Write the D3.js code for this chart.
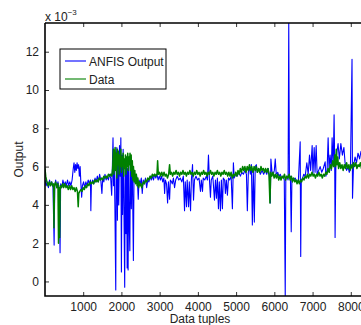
<!DOCTYPE html>
<html>
<head>
<meta charset="utf-8">
<script src="https://cdn.jsdelivr.net/npm/d3@7"></script>
<style>
  body { margin: 0; background: #fff; }
  text { font-family: "Liberation Sans", Arial, sans-serif; }
</style>
</head>
<body>
<svg id="chart" width="361" height="325"></svg>
<script>
// values are in units of 1e-3 (axis shows "x 10^-3")
const xTicks = [1000, 2000, 3000, 4000, 5000, 6000, 7000, 8000];
const yTicks = [0, 2, 4, 6, 8, 10, 12];
const seriesNames = ["ANFIS Output", "Data"];

// ANFIS output: [tuple index, value]
const anfisOutput = [
  [1,5.3],[30,5.0],[60,5.2],[90,4.9],[120,5.3],[150,5.0],[180,5.2],[210,4.9],[240,1.9],[255,5.0],[280,5.3],[310,4.9],[340,5.2],[370,4.8],[395,1.5],[410,5.1],
  [440,4.9],[470,5.3],[500,5.0],[530,5.2],[560,5.0],[590,5.3],[620,5.0],[650,5.2],[680,5.0],[710,5.3],[740,5.9],[760,6.2],[780,5.7],[800,6.1],[820,5.8],[840,6.2],
  [860,5.9],[880,6.1],[900,5.5],[920,6.0],[940,5.1],[960,4.4],[980,5.0],[1010,5.2],[1040,4.9],[1070,5.2],[1100,5.0],[1130,5.3],[1160,5.1],[1190,5.3],[1200,3.7],
  [1215,5.1],[1250,5.3],[1280,5.1],[1310,5.4],[1340,5.2],[1370,5.5],[1400,5.2],[1430,5.6],[1460,5.3],[1490,4.6],[1510,5.4],[1540,5.2],[1570,5.6],[1600,5.3],
  [1630,5.5],[1660,5.3],[1690,5.6],[1720,5.4],[1745,4.5],[1760,5.7],[1780,7.5],[1795,5.0],[1810,6.8],[1830,3.8],[1852,-0.45],[1865,6.4],[1880,7.0],[1895,3.2],
  [1910,6.8],[1930,4.0],[1950,7.1],[1970,5.5],[1985,7.5],[2000,0.5],[2015,6.6],[2030,3.5],[2045,6.9],[2060,5.0],[2086,-0.3],[2100,6.3],[2120,2.5],[2135,6.5],
  [2150,0.7],[2165,5.9],[2175,0.6],[2190,6.0],[2205,3.0],[2220,1.6],[2235,6.1],[2260,3.8],[2275,6.0],[2290,5.2],[2313,1.1],[2330,5.8],[2360,5.3],[2390,5.6],
  [2420,5.2],[2440,4.3],[2460,5.3],[2490,5.1],[2520,5.4],[2545,4.6],[2570,5.3],[2600,5.1],[2630,5.4],[2660,4.9],[2690,5.3],[2720,5.2],[2750,5.5],[2780,5.3],
  [2810,5.5],[2840,5.3],[2870,5.6],[2900,5.4],[2930,5.6],[2960,5.3],[2990,5.5],[3020,5.3],[3050,5.5],[3080,5.2],[3110,5.4],[3130,4.6],[3150,5.3],[3180,5.1],
  [3208,4.1],[3230,5.2],[3260,4.3],[3280,5.3],[3310,5.2],[3330,5.1],[3360,5.4],[3390,4.9],[3420,5.3],[3460,5.5],[3500,5.3],[3540,5.4],[3580,5.2],[3620,5.5],
  [3651,3.7],[3670,5.2],[3703,3.9],[3720,5.3],[3756,3.9],[3775,5.2],[3808,3.7],[3830,5.3],[3860,6.1],[3886,4.25],[3910,5.3],[3950,5.5],[3990,5.3],[4030,5.4],
  [4068,4.7],[4090,5.3],[4121,4.7],[4140,5.4],[4180,5.3],[4220,5.5],[4250,5.3],[4277,6.6],[4300,5.4],[4329,4.4],[4350,5.3],[4390,5.5],[4434,4.25],[4460,5.3],
  [4486,4.35],[4510,5.4],[4538,3.8],[4560,5.2],[4590,3.7],[4615,5.3],[4642,3.8],[4665,5.4],[4700,5.3],[4720,4.6],[4745,5.3],[4773,4.5],[4800,5.4],[4830,5.3],
  [4870,5.5],[4903,3.8],[4929,6.2],[4950,5.4],[4990,5.6],[5030,5.5],[5070,5.7],[5112,5.5],[5150,5.7],[5190,5.6],[5230,5.8],[5270,5.6],[5294,3.7],[5320,5.7],
  [5350,6.0],[5372,5.6],[5400,6.1],[5425,2.95],[5450,5.8],[5477,3.1],[5500,6.0],[5529,6.1],[5550,5.7],[5590,5.9],[5633,5.6],[5680,5.8],[5720,5.6],[5763,5.8],
  [5800,5.6],[5842,5.9],[5870,5.5],[5894,4.1],[5910,6.4],[5940,5.7],[5972,5.6],[6000,5.8],[6024,6.4],[6050,5.6],[6090,5.7],[6120,5.5],[6155,5.6],[6190,5.4],
  [6233,5.5],[6260,5.3],[6285,-0.75],[6300,5.4],[6330,5.5],[6360,5.3],[6377,13.5],[6395,5.4],[6420,5.5],[6442,2.6],[6460,5.4],[6500,5.3],[6546,5.4],[6590,5.2],
  [6630,5.3],[6676,7.3],[6690,1.3],[6705,5.3],[6740,5.4],[6770,5.6],[6807,5.5],[6850,6.2],[6885,5.6],[6920,6.6],[6950,5.8],[6989,7.1],[7010,5.6],[7042,7.0],
  [7065,5.7],[7094,7.1],[7120,5.6],[7160,5.8],[7198,6.0],[7240,5.7],[7280,5.9],[7329,6.25],[7350,5.5],[7380,5.8],[7407,7.5],[7430,5.9],[7459,6.6],[7490,5.8],
  [7511,7.5],[7540,6.0],[7563,8.7],[7580,5.9],[7589,2.3],[7610,6.2],[7640,6.8],[7667,7.2],[7700,6.4],[7740,7.2],[7780,6.6],[7820,7.0],[7850,6.2],[7890,5.8],
  [7928,6.0],[7960,5.7],[7990,5.9],[8032,11.6],[8045,4.35],[8070,6.0],[8111,6.5],[8150,6.2],[8189,6.7],[8230,6.4],[8267,6.8],[8320,6.5],[8400,6.6]
];

// measured data: [tuple index, value]
const measuredData = [
  [1,5.9],[20,5.5],[50,5.2],[80,5.0],[110,5.2],[140,5.0],[170,5.2],[200,5.0],[225,5.1],[235,2.8],[250,5.0],[280,5.2],[310,4.9],[340,5.1],[355,2.0],[370,4.9],
  [385,2.3],[400,5.0],[430,4.9],[460,5.1],[490,4.9],[520,5.1],[550,4.9],[580,5.0],[610,4.8],[640,5.0],[670,4.8],[700,5.0],[730,4.8],[760,4.9],[790,4.7],[820,4.9],
  [850,4.7],[870,3.9],[885,4.6],[910,4.7],[940,4.8],[970,4.7],[1000,4.9],[1030,4.8],[1060,5.0],[1090,4.9],[1120,5.1],[1150,5.0],[1180,5.2],[1210,5.1],[1240,5.2],
  [1270,5.1],[1300,5.3],[1330,5.2],[1360,5.3],[1390,5.2],[1420,5.4],[1450,5.3],[1480,5.4],[1510,5.3],[1540,5.5],[1570,5.4],[1600,5.5],[1630,5.4],[1660,5.6],
  [1690,5.5],[1720,5.6],[1750,5.5],[1770,5.9],[1790,6.9],[1805,5.6],[1820,6.6],[1835,7.0],[1850,5.8],[1865,6.7],[1880,5.4],[1895,6.9],[1910,6.1],[1925,6.8],
  [1940,5.6],[1955,6.6],[1970,6.0],[1985,6.9],[2000,5.7],[2015,6.5],[2030,6.0],[2045,6.7],[2060,5.5],[2075,6.4],[2090,5.9],[2105,6.6],[2120,5.6],[2135,6.5],
  [2150,6.0],[2165,6.7],[2180,5.8],[2195,6.5],[2210,6.1],[2225,6.7],[2240,5.8],[2255,6.6],[2270,5.5],[2285,6.3],[2300,5.3],[2315,6.0],[2330,5.2],[2350,5.8],
  [2370,5.1],[2390,5.6],[2410,5.0],[2430,5.4],[2450,4.9],[2470,5.2],[2490,5.0],[2510,5.1],[2530,4.9],[2550,5.0],[2570,5.2],[2600,5.1],[2630,5.3],[2660,5.2],
  [2690,5.4],[2720,5.3],[2750,5.5],[2780,5.4],[2810,5.6],[2840,5.5],[2870,5.6],[2900,5.5],[2930,5.6],[2947,6.3],[2965,5.6],[2995,5.7],[3025,5.5],[3055,5.7],
  [3085,5.5],[3115,5.7],[3145,5.5],[3175,5.6],[3205,5.4],[3235,5.6],[3260,6.1],[3280,5.6],[3310,5.7],[3340,5.5],[3370,5.7],[3400,5.6],[3430,5.8],[3460,5.6],
  [3490,5.7],[3520,5.5],[3550,5.7],[3580,5.6],[3610,5.8],[3640,5.6],[3670,5.7],[3700,5.5],[3730,5.7],[3760,5.6],[3790,5.8],[3820,5.6],[3850,5.7],[3880,5.5],
  [3910,5.7],[3940,5.6],[3970,5.8],[4000,5.6],[4030,5.7],[4060,5.5],[4090,5.7],[4120,5.6],[4150,5.8],[4180,5.6],[4210,5.7],[4240,5.5],[4270,5.7],[4300,5.6],
  [4330,5.8],[4360,5.6],[4390,5.7],[4420,5.5],[4450,5.7],[4480,5.6],[4510,5.8],[4540,5.6],[4570,5.7],[4600,5.5],[4630,5.7],[4660,5.6],[4690,5.8],[4720,5.6],
  [4750,5.7],[4780,5.5],[4810,5.7],[4840,5.5],[4870,5.7],[4900,5.4],[4930,5.6],[4960,5.5],[4990,5.7],[5020,5.5],[5050,5.8],[5080,5.6],[5110,5.9],[5140,5.7],
  [5170,6.0],[5200,5.8],[5230,6.0],[5260,5.7],[5290,6.0],[5320,5.8],[5350,6.1],[5380,5.8],[5410,6.0],[5440,5.7],[5470,6.0],[5500,5.8],[5530,6.0],[5560,5.7],
  [5590,5.9],[5620,5.7],[5650,6.0],[5680,5.8],[5710,5.9],[5740,5.7],[5770,5.9],[5800,5.7],[5830,5.9],[5860,5.6],[5885,4.1],[5905,5.7],[5935,5.5],[5965,5.7],
  [5995,5.4],[6025,5.6],[6055,5.4],[6085,5.6],[6115,5.3],[6145,5.5],[6175,5.3],[6205,5.5],[6235,5.4],[6265,5.6],[6295,5.3],[6325,5.5],[6355,5.4],[6385,5.6],
  [6415,5.3],[6445,5.5],[6475,5.2],[6505,5.4],[6535,5.2],[6565,5.3],[6595,5.1],[6625,5.3],[6655,5.1],[6685,5.3],[6715,5.2],[6745,5.4],[6775,5.3],[6805,5.5],
  [6835,5.4],[6865,5.6],[6895,5.4],[6925,5.6],[6955,5.5],[6985,5.7],[7015,5.5],[7045,5.6],[7075,5.4],[7105,5.6],[7135,5.5],[7165,5.7],[7195,5.5],[7225,5.6],
  [7255,5.4],[7285,5.6],[7315,5.5],[7345,5.7],[7375,5.6],[7405,5.9],[7435,5.7],[7465,6.1],[7495,5.9],[7525,6.3],[7555,6.0],[7580,6.6],[7600,6.0],[7620,6.9],
  [7640,6.1],[7660,6.5],[7680,5.9],[7710,6.2],[7740,5.9],[7770,6.1],[7800,5.8],[7830,6.1],[7860,5.9],[7890,6.2],[7920,5.9],[7950,6.1],[7980,5.8],[8010,6.1],
  [8040,5.9],[8070,6.2],[8100,6.0],[8130,6.2],[8160,5.9],[8190,6.1],[8220,6.0],[8250,6.2],[8280,5.9],[8310,6.1],[8340,6.0],[8400,6.1]
];

const colors = ["#0000ff", "#008000"];
const widths = [1.1, 1.5];

const svg = d3.select("#chart");
const mLeft = 45, mTop = 23, mRight = 368, mBottom = 296;

const x = d3.scaleLinear().domain([1, 8450]).range([mLeft, mRight]);
const y = d3.scaleLinear().domain([-0.76, 13.5]).range([mBottom, mTop]);

svg.append("defs").append("clipPath").attr("id", "plotClip")
  .append("rect")
  .attr("x", mLeft).attr("y", mTop)
  .attr("width", mRight - mLeft).attr("height", mBottom - mTop);

// draw data lines first, axes go on top
const line = d3.line().x(d => x(d[0])).y(d => y(d[1]));
const gLines = svg.append("g").attr("clip-path", "url(#plotClip)");
[anfisOutput, measuredData].forEach((s, i) => {
  gLines.append("path")
    .datum(s)
    .attr("fill", "none")
    .attr("stroke", colors[i])
    .attr("stroke-width", widths[i])
    .attr("stroke-linejoin", "round")
    .attr("d", line);
});

// axes (matlab style: ticks inside, box on)
const xAxis = svg.append("g")
  .attr("transform", `translate(0,${mBottom})`)
  .call(d3.axisBottom(x).tickValues(xTicks).tickSize(-4).tickPadding(6).tickFormat(d3.format("d")));
const xTop = svg.append("g")
  .attr("transform", `translate(0,${mTop})`)
  .call(d3.axisTop(x).tickValues(xTicks).tickSize(-4).tickFormat(""));
const yAxis = svg.append("g")
  .attr("transform", `translate(${mLeft},0)`)
  .call(d3.axisLeft(y).tickValues(yTicks).tickSize(-4).tickPadding(6));

[xAxis, xTop, yAxis].forEach(a => {
  a.select(".domain").remove();
  a.selectAll(".tick line").attr("stroke", "#000").attr("stroke-width", 0.8);
  a.selectAll("text").attr("font-size", 12).attr("fill", "#222")
    .style("font-family", "'Liberation Sans', Arial, sans-serif");
});

// frame
svg.append("path")
  .attr("d", `M${mLeft},${mTop}H${mRight}M${mLeft},${mTop}V${mBottom}H${mRight}`)
  .attr("fill", "none").attr("stroke", "#000").attr("stroke-width", 1.6);

// exponent label
const expo = svg.append("text").attr("x", 45).attr("y", 21)
  .attr("font-size", 12).attr("fill", "#222");
expo.append("tspan").text("x 10");
expo.append("tspan").attr("font-size", 8).attr("dy", -6).text("\u22123");

// axis labels
svg.append("text")
  .attr("x", (mLeft + 361) / 2 - 3).attr("y", 323)
  .attr("text-anchor", "middle").attr("font-size", 12).attr("fill", "#222")
  .text("Data tuples");
svg.append("text")
  .attr("transform", `translate(23,${(mTop + mBottom) / 2}) rotate(-90)`)
  .attr("text-anchor", "middle").attr("font-size", 12).attr("fill", "#222")
  .text("Output");

// legend
const lg = svg.append("g").attr("transform", "translate(60,49)");
lg.append("rect").attr("width", 106).attr("height", 40)
  .attr("fill", "#fff").attr("stroke", "#000").attr("stroke-width", 1);
seriesNames.forEach((name, i) => {
  const ly = 12 + i * 18;
  lg.append("line").attr("x1", 5).attr("x2", 26).attr("y1", ly).attr("y2", ly)
    .attr("stroke", colors[i]).attr("stroke-width", 1.1);
  lg.append("text").attr("x", 29).attr("y", ly + 4.5)
    .attr("font-size", 12).attr("fill", "#222").text(name);
});
</script>
</body>
</html>
